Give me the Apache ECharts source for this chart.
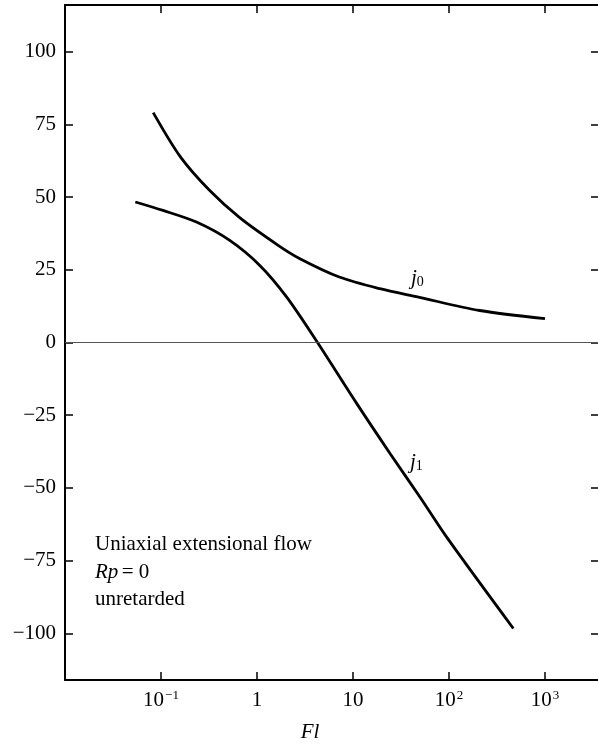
<!DOCTYPE html>
<html>
<head>
<meta charset="utf-8">
<script src="https://cdn.jsdelivr.net/npm/echarts@6/dist/echarts.min.js"></script>
<style>
  html, body { margin: 0; padding: 0; background: #fff; }
  #chart { width: 598px; height: 746px; }
</style>
</head>
<body>
<div id="chart"></div>
<script>
// Fl values and the two coefficients j0 and j1 (uniaxial extensional flow, Rp = 0, unretarded)
const j0Fl = [0.083, 0.16, 0.32, 0.66, 1.66, 2.8, 7.2, 19, 48, 209, 1000];
const j0Val = [79, 63.7, 52.3, 42.9, 33.4, 28.8, 22.5, 18.5, 15.6, 11.0, 8.2];

const j1Fl = [0.054, 0.105, 0.234, 0.52, 1.07, 2.04, 4.27, 11, 24.5, 50, 95, 468];
const j1Val = [48.3, 45.4, 41.4, 35.1, 26.5, 15.6, 0, -21.1, -38.3, -53.2, -67, -98.3];

// axis ranges and tick labels
const flRange = [0.01, 3652];
const jRange = [-116, 116];
const jTicks = [-100, -75, -50, -25, 0, 25, 50, 75, 100];
const flTickLabels = { 0.1: '10{sup|−1}', 1: '1', 10: '10', 100: '10{sup|2}', 1000: '10{sup|3}' };

const serif = '"Liberation Serif", "DejaVu Serif", serif';
const pair = (xs, ys) => xs.map((x, i) => [x, ys[i]]);

const chart = echarts.init(document.getElementById('chart'));

const frameLine = { show: true, onZero: false, lineStyle: { color: '#000', width: 2 } };
const innerTick = { show: true, inside: true, length: 8, lineStyle: { color: '#000', width: 1.5 } };
const curveStyle = { color: '#000', width: 2.8 };

chart.setOption({
  animation: false,
  backgroundColor: '#fff',
  grid: { left: 65, right: -1, top: 5, bottom: 66, outerBoundsMode: 'none', containLabel: false },
  xAxis: [
    {
      type: 'log', logBase: 10, min: flRange[0], max: flRange[1], position: 'bottom',
      axisLine: frameLine, axisTick: innerTick, splitLine: { show: false }, minorTick: { show: false },
      name: 'Fl', nameLocation: 'middle', nameGap: 42,
      nameTextStyle: { fontFamily: serif, fontStyle: 'italic', fontSize: 21, color: '#000', padding: [0, 44, 0, 0] },
      axisLabel: {
        show: true, margin: 9, showMinLabel: false, showMaxLabel: false,
        fontFamily: serif, fontSize: 21, color: '#000', lineHeight: 22,
        formatter: v => flTickLabels[+v.toPrecision(6)] || '',
        rich: { sup: { fontFamily: serif, fontSize: 13, color: '#000', lineHeight: 22, verticalAlign: 'top', padding: [0, 0, 0, 1] } }
      }
    },
    {
      type: 'log', logBase: 10, min: flRange[0], max: flRange[1], position: 'top',
      axisLine: frameLine, axisTick: innerTick, axisLabel: { show: false }, splitLine: { show: false }
    }
  ],
  yAxis: [
    {
      type: 'value', min: jRange[0], max: jRange[1], position: 'left',
      axisLine: frameLine, splitLine: { show: false },
      axisTick: Object.assign({ customValues: jTicks }, innerTick),
      axisLabel: {
        customValues: jTicks, margin: 9, fontFamily: serif, fontSize: 21, color: '#000',
        formatter: v => (v < 0 ? '−' + Math.abs(v) : String(v))
      }
    },
    {
      type: 'value', min: jRange[0], max: jRange[1], position: 'right',
      axisLine: frameLine, splitLine: { show: false },
      axisTick: Object.assign({ customValues: jTicks }, innerTick),
      axisLabel: { show: false }
    }
  ],
  series: [
    {
      name: 'j0', type: 'line', data: pair(j0Fl, j0Val), smooth: 0.3,
      showSymbol: false, lineStyle: curveStyle,
      markLine: {
        silent: true, symbol: ['none', 'none'], label: { show: false },
        lineStyle: { color: '#555', width: 1, type: 'solid' },
        data: [{ yAxis: 0 }]
      }
    },
    {
      name: 'j1', type: 'line', data: pair(j1Fl, j1Val), smooth: 0.3,
      showSymbol: false, lineStyle: curveStyle
    }
  ],
  graphic: [
    {
      type: 'text', left: 411, top: 268,
      style: {
        text: '{j|j}{s|0}',
        rich: {
          j: { fontFamily: serif, fontStyle: 'italic', fontSize: 21, fill: '#000', lineHeight: 22 },
          s: { fontFamily: serif, fontSize: 14, fill: '#000', lineHeight: 22, verticalAlign: 'bottom' }
        }
      }
    },
    {
      type: 'text', left: 410, top: 452,
      style: {
        text: '{j|j}{s|1}',
        rich: {
          j: { fontFamily: serif, fontStyle: 'italic', fontSize: 21, fill: '#000', lineHeight: 22 },
          s: { fontFamily: serif, fontSize: 14, fill: '#000', lineHeight: 22, verticalAlign: 'bottom' }
        }
      }
    },
    {
      type: 'text', left: 95, top: 534,
      style: {
        text: '{t|Uniaxial extensional flow}\n{i|Rp} {t|= 0}\n{t|unretarded}',
        rich: {
          t: { fontFamily: serif, fontSize: 21, fill: '#000', lineHeight: 27.5 },
          i: { fontFamily: serif, fontStyle: 'italic', fontSize: 21, fill: '#000', lineHeight: 27.5 }
        }
      }
    }
  ]
});
</script>
</body>
</html>
